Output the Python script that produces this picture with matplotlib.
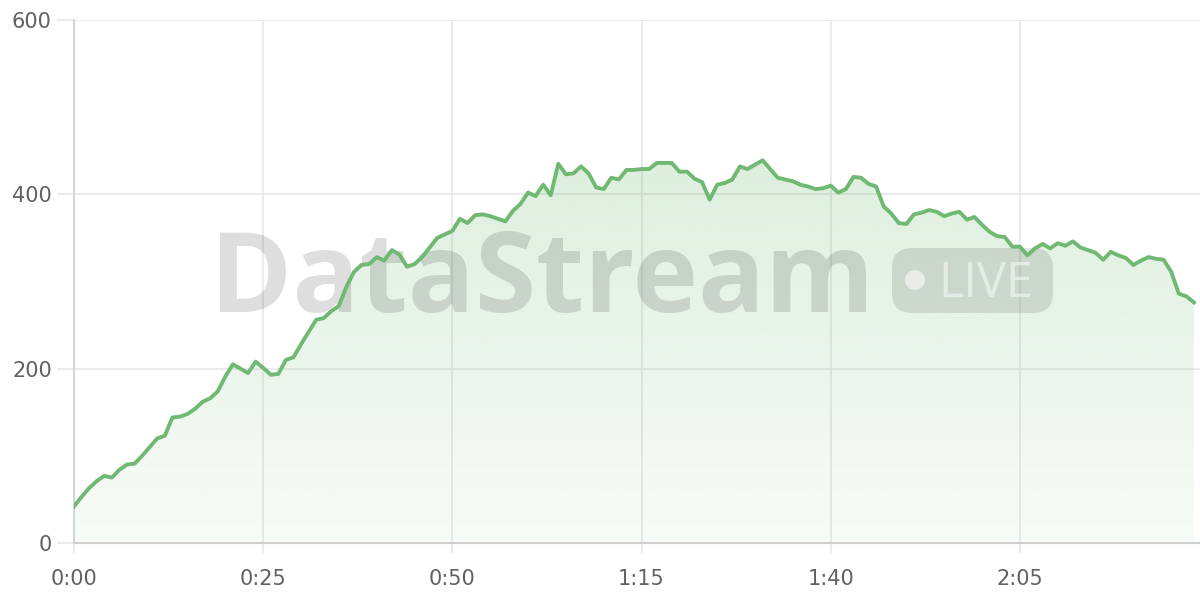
import numpy as np
import matplotlib
matplotlib.use("Agg")
import matplotlib.pyplot as plt
from matplotlib.patches import FancyBboxPatch, Circle
from matplotlib.ticker import FixedLocator
from matplotlib.transforms import Affine2D

# ---- data (seconds, value) ----
seconds = list(range(149))
values = [
    42, 53, 63, 71, 77, 75, 84, 90, 91, 100,
    110, 120, 123, 144, 145, 148, 154, 162, 166, 174,
    191, 205, 200, 195, 208, 201, 193, 194, 210, 213,
    228, 242, 256, 258, 266, 272, 294, 311, 319, 320,
    328, 324, 336, 331, 317, 320, 328, 339, 350, 354,
    358, 372, 367, 376, 377, 375, 372, 369, 381, 389,
    402, 398, 411, 399, 435, 423, 424, 432, 424, 408,
    406, 419, 417, 428, 428, 429, 429, 436, 436, 436,
    426, 426, 418, 414, 394, 411, 413, 417, 432, 429,
    434, 439, 429, 419, 417, 415, 411, 409, 406, 407,
    410, 402, 406, 420, 419, 412, 409, 386, 378, 367,
    366, 377, 379, 382, 380, 375, 378, 380, 371, 374,
    365, 357, 352, 351, 340, 340, 330, 338, 343, 338,
    344, 341, 346, 339, 336, 333, 325, 334, 330, 327,
    319, 324, 328, 326, 325, 311, 286, 283, 276,
]
x_ticks = [0, 25, 50, 75, 100, 125]
x_tick_labels = ["0:00", "0:25", "0:50", "1:15", "1:40", "2:05"]
y_ticks = [0, 200, 400, 600]
y_tick_labels = ["0", "200", "400", "600"]

LINE = "#70b972"
GRID = "#e8e8e8"
AXIS = "#cfcfcf"
TXT = "#616161"

plt.rcParams['font.family'] = ['DejaVu Sans']

fig = plt.figure(figsize=(12, 6), dpi=100)
ax = fig.add_axes([74 / 1200, 57 / 600, 1 - 74 / 1200, 523 / 600])

x = np.array(seconds, dtype=float)
y = np.array(values, dtype=float)

# gradient fill under the line
poly = ax.fill_between(x, y, 0, facecolor="none", edgecolor="none")
grad = np.linspace(0, 1, 256).reshape(-1, 1)
rgba = np.zeros((256, 1, 4))
rgba[..., 0] = 0x70 / 255
rgba[..., 1] = 0xb9 / 255
rgba[..., 2] = 0x72 / 255
rgba[..., 3] = 0.05 + 0.19 * grad
img = ax.imshow(rgba, extent=[0, x.max(), 0, 450], origin="lower",
                aspect="auto", zorder=1)
img.set_clip_path(poly.get_paths()[0], transform=ax.transData)
ax.set_xlim(0, 148.8)
ax.set_ylim(0, 600)

ax.plot(x, y, color=LINE, lw=2.8, zorder=4, solid_joinstyle="round")

# grid & ticks
ax.xaxis.set_major_locator(FixedLocator(x_ticks))
ax.set_xticklabels(x_tick_labels)
ax.yaxis.set_major_locator(FixedLocator(y_ticks))
ax.set_yticklabels(y_tick_labels)
ax.grid(True, color=GRID, lw=1.2, zorder=0)
ax.set_axisbelow(True)
ax.tick_params(axis="x", length=7, width=1.2, color=GRID, pad=12,
               labelsize=15, labelcolor=TXT)
ax.tick_params(axis="y", length=12, width=1.2, color=GRID, pad=4,
               labelsize=15, labelcolor=TXT)
for s in ["top", "right"]:
    ax.spines[s].set_visible(False)
ax.spines["left"].set_color(AXIS)
ax.spines["bottom"].set_color(AXIS)
ax.spines["left"].set_linewidth(1.2)
ax.spines["bottom"].set_linewidth(1.5)

# watermark (pixel coordinates, origin bottom-left)
px = Affine2D().scale(1 / 1200, 1 / 600) + fig.transFigure
ax.text(210, 600 - 312, "DataStream", fontsize=80, fontweight="bold",
        family=["Open Sans", "DejaVu Sans"], color=(0, 0, 0, 0.13),
        ha="left", va="baseline", zorder=3, transform=px, clip_on=False)
badge = FancyBboxPatch((892, 600 - 313), 161, 65,
                       boxstyle="round,pad=0,rounding_size=20",
                       transform=px, facecolor=(0, 0, 0, 0.11),
                       edgecolor="none", zorder=3, clip_on=False)
ax.add_patch(badge)
ax.add_patch(Circle((915, 600 - 280), 10, transform=px,
                    facecolor=(1, 1, 1, 0.55), edgecolor="none",
                    zorder=3, clip_on=False))
ax.text(938, 600 - 297, "LIVE", fontsize=35, color=(1, 1, 1, 0.5),
        ha="left", va="baseline", zorder=3, transform=px, clip_on=False,
        family=["Open Sans", "DejaVu Sans"])

fig.savefig("out.png", dpi=100)
